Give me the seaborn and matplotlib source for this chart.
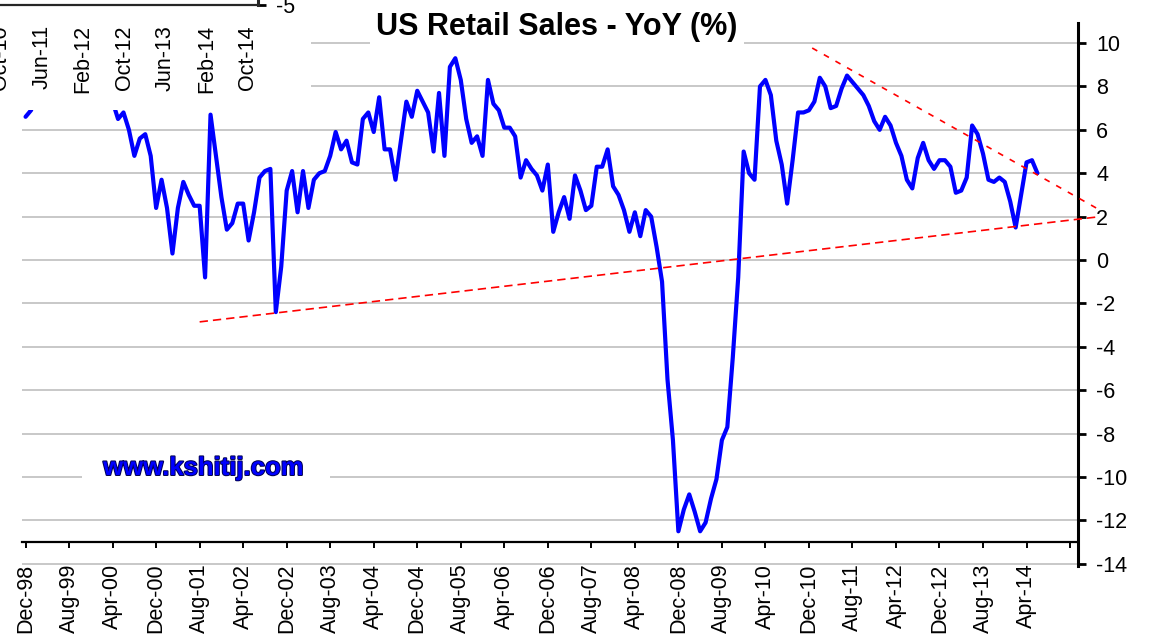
import numpy as np
import pandas as pd
import matplotlib
matplotlib.use("Agg")
import matplotlib.pyplot as plt
import matplotlib.patheffects as pe
from matplotlib.patches import Rectangle
import seaborn as sns

# ---------------- data: US retail sales, YoY (%), monthly from Dec-98 ----------------
dec98 = [6.6]
y1999 = [6.9, 7.6, 8.2, 7.9, 8.4, 8.8, 8.3, 8.9, 8.6, 9.2, 9.0, 9.5]
y2000 = [9.8, 10.0, 8.6, 7.3, 6.5, 6.8, 6.0, 4.8, 5.6, 5.8, 4.8, 2.4]
y2001 = [3.7, 2.4, 0.3, 2.4, 3.6, 3.0, 2.5, 2.5, -0.8, 6.7, 4.8, 2.9]
y2002 = [1.4, 1.7, 2.6, 2.6, 0.9, 2.2, 3.8, 4.1, 4.2, -2.4, -0.3, 3.2]
y2003 = [4.1, 2.2, 4.1, 2.4, 3.7, 4.0, 4.1, 4.8, 5.9, 5.1, 5.5, 4.5]
y2004 = [4.4, 6.5, 6.8, 5.9, 7.5, 5.1, 5.1, 3.7, 5.5, 7.3, 6.6, 7.8]
y2005 = [7.3, 6.8, 5.0, 7.7, 4.8, 8.9, 9.3, 8.3, 6.5, 5.4, 5.7, 4.8]
y2006 = [8.3, 7.2, 6.9, 6.1, 6.1, 5.7, 3.8, 4.6, 4.2, 3.9, 3.2, 4.4]
y2007 = [1.3, 2.2, 2.9, 1.9, 3.9, 3.2, 2.3, 2.5, 4.3, 4.3, 5.1, 3.4]
y2008 = [3.0, 2.3, 1.3, 2.2, 1.1, 2.3, 2.0, 0.6, -1.0, -5.5, -8.3, -12.5]
y2009 = [-11.5, -10.8, -11.6, -12.5, -12.1, -11.0, -10.1, -8.3, -7.7, -4.5, -0.8, 5.0]
y2010 = [4.0, 3.7, 8.0, 8.3, 7.6, 5.5, 4.4, 2.6, 4.6, 6.8, 6.8, 6.9]
y2011 = [7.3, 8.4, 8.0, 7.0, 7.1, 7.9, 8.5, 8.2, 7.9, 7.6, 7.1, 6.4]
y2012 = [6.0, 6.6, 6.2, 5.4, 4.8, 3.7, 3.3, 4.7, 5.4, 4.6, 4.2, 4.6]
y2013 = [4.6, 4.3, 3.1, 3.2, 3.8, 6.2, 5.8, 4.9, 3.7, 3.6, 3.8, 3.6]
y2014 = [2.7, 1.5, 3.0, 4.5, 4.6, 4.0]

x_tick_labels = ["Dec-98", "Aug-99", "Apr-00", "Dec-00", "Aug-01", "Apr-02", "Dec-02",
                 "Aug-03", "Apr-04", "Dec-04", "Aug-05", "Apr-06", "Dec-06", "Aug-07",
                 "Apr-08", "Dec-08", "Aug-09", "Apr-10", "Dec-10", "Aug-11", "Apr-12",
                 "Dec-12", "Aug-13", "Apr-14", ""]
y_ticks = [-14, -12, -10, -8, -6, -4, -2, 0, 2, 4, 6, 8, 10]

# stray axis of another chart overlapping the top-left corner
inset_tick_labels = ["Oct-10", "Jun-11", "Feb-12", "Oct-12", "Jun-13", "Feb-14", "Oct-14"]
inset_y_label = ["-5"]

# hand-drawn trend lines (month index, value)
trend_lower_x = [32.0, 197.5]
trend_lower_y = [-2.85, 2.0]
trend_upper_x = [144.6, 197.5]
trend_upper_y = [9.77, 2.3]

title = "US Retail Sales - YoY (%)"
watermark = "www.kshitij.com"

yoy = (dec98 + y1999 + y2000 + y2001 + y2002 + y2003 + y2004 + y2005 + y2006 +
       y2007 + y2008 + y2009 + y2010 + y2011 + y2012 + y2013 + y2014)
df = pd.DataFrame({"month": np.arange(len(yoy)), "yoy": yoy})

# ---------------- style ----------------
sns.set_style("white")
plt.rcParams["font.family"] = ["Liberation Sans", "DejaVu Sans"]
plt.rcParams["axes.unicode_minus"] = False

W, H = 1153, 638
fig = plt.figure(figsize=(W / 100, H / 100), dpi=100, facecolor="white")


def fx(px):
    return px / W


def fy(py):
    return 1 - py / H


# main axes geometry (pixels)
ax_left, ax_right = 22.3, 1078.0
ax_top, ax_bottom = 23.5, 566.0
ax = fig.add_axes([fx(ax_left), fy(ax_bottom), fx(ax_right - ax_left), (ax_bottom - ax_top) / H])
ax.set_facecolor("white")

sns.lineplot(data=df, x="month", y="yoy", ax=ax, color="#0000FF", linewidth=3.0,
             legend=False, zorder=4)

ax.plot(trend_lower_x, trend_lower_y, color="#FF0000", linewidth=1.2, dashes=(5, 3),
        clip_on=False, zorder=5)
ax.plot(trend_upper_x, trend_upper_y, color="#FF0000", linewidth=1.2, dashes=(3.5, 4.5),
        clip_on=False, zorder=5)

ax.set_xlim(-0.6, 193.46)
ax.set_ylim(-14.1, 10.9)
ax.set_xlabel("")
ax.set_ylabel("")

# y axis on the right
ax.yaxis.tick_right()
ax.set_yticks(y_ticks)
ax.set_yticklabels([str(v) for v in y_ticks])
ax.tick_params(axis="y", which="both", direction="out", length=6, width=2.0, pad=7,
               labelsize=15.5, colors="black", right=True, left=False)
ax.grid(axis="y", color="#c4c4c4", linewidth=1.3)
ax.grid(axis="x", visible=False)
ax.set_axisbelow(True)

# x axis crossing at -13
ax.spines["bottom"].set_position(("data", -13))
ax.spines["bottom"].set_linewidth(1.6)
ax.spines["bottom"].set_color("black")
ax.spines["right"].set_linewidth(2.2)
ax.spines["right"].set_color("black")
ax.spines["top"].set_visible(False)
ax.spines["left"].set_visible(False)
ax.set_xticks(np.arange(0, 193, 8))
ax.set_xticklabels(x_tick_labels, rotation=90)
ax.tick_params(axis="x", direction="out", length=4.5, width=1.4, pad=11,
               labelsize=15.5, colors="black", bottom=True)

# title with white background
fig.text(fx(557), fy(35), title, fontsize=22, fontweight="bold", ha="center",
         va="baseline", color="black", zorder=6,
         bbox=dict(boxstyle="square,pad=0.2", facecolor="white", edgecolor="none"))

# watermark with white box
fig.add_artist(Rectangle((fx(82), fy(492)), fx(330 - 82), (492 - 452) / H,
                         transform=fig.transFigure, facecolor="white",
                         edgecolor="none", zorder=2))
fig.text(fx(203.5), fy(475), watermark, fontsize=18.5, fontweight="bold",
         ha="center", va="baseline", color="#0000FF", zorder=6,
         path_effects=[pe.withStroke(linewidth=1.4, foreground="#000050")])

# stray overlapping chart in the top-left corner
fig.add_artist(Rectangle((0, fy(110)), fx(311), 110 / H, transform=fig.transFigure,
                         facecolor="white", edgecolor="none", zorder=3))
ax_in = fig.add_axes([0, fy(5), fx(258), 60 / H], zorder=4)
ax_in.set_facecolor("none")
px_per_month = 41.2 / 8
in_months = np.arange(142, 191, 8)
ax_in.set_xlim(142 - 0.5 / px_per_month, 142 + 257.5 / px_per_month)
ax_in.set_ylim(-5, 5)
ax_in.set_xticks(in_months)
ax_in.set_xticklabels(inset_tick_labels, rotation=90)
ax_in.yaxis.tick_right()
ax_in.set_yticks([-5])
ax_in.set_yticklabels(inset_y_label)
for s in ["top", "left"]:
    ax_in.spines[s].set_visible(False)
ax_in.spines["bottom"].set_linewidth(1.6)
ax_in.spines["right"].set_linewidth(2.2)
ax_in.tick_params(axis="x", direction="out", length=4.5, width=1.4, pad=10,
                  labelsize=15.5, colors="black")
ax_in.tick_params(axis="y", direction="out", length=6, width=2.0, pad=7,
                  labelsize=15.5, colors="black", right=True, left=False)
ax_in.grid(False)

fig.savefig("out.png", dpi=100, facecolor="white")
